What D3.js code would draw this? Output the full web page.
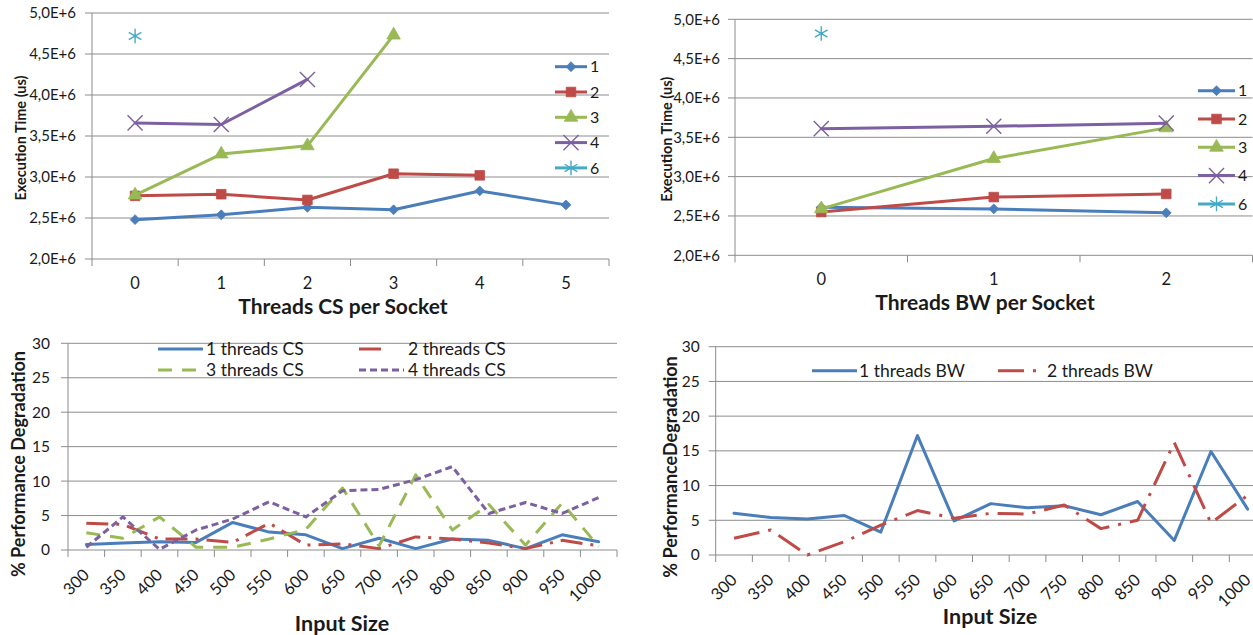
<!DOCTYPE html>
<html>
<head>
<meta charset="utf-8">
<script src="https://cdn.jsdelivr.net/npm/d3@7"></script>
<style>
  html, body { margin: 0; padding: 0; background: #fff; }
  svg { display: block; font-family: Lato, "Open Sans", sans-serif; }
</style>
</head>
<body>
<svg id="chart" width="1253" height="635"></svg>
<script>
// ---- Execution time vs. co-running threads (per socket) ----
const csThreads = ["0", "1", "2", "3", "4", "5"];
const bwThreads = ["0", "1", "2"];
const threadSeries = ["1", "2", "3", "4", "6"];

const csTime1 = [2.48e6, 2.54e6, 2.63e6, 2.60e6, 2.83e6, 2.66e6];
const csTime2 = [2.77e6, 2.79e6, 2.72e6, 3.04e6, 3.02e6, null];
const csTime3 = [2.78e6, 3.28e6, 3.38e6, 4.73e6, null, null];
const csTime4 = [3.66e6, 3.64e6, 4.19e6, null, null, null];
const csTime6 = [4.72e6, null, null, null, null, null];

const bwTime1 = [2.61e6, 2.59e6, 2.54e6];
const bwTime2 = [2.55e6, 2.74e6, 2.78e6];
const bwTime3 = [2.59e6, 3.23e6, 3.62e6];
const bwTime4 = [3.61e6, 3.64e6, 3.68e6];
const bwTime6 = [4.82e6, null, null];

const timeTicks = [2.0e6, 2.5e6, 3.0e6, 3.5e6, 4.0e6, 4.5e6, 5.0e6];

// ---- Performance degradation vs. input size ----
const inputSizes = ["300", "350", "400", "450", "500", "550", "600", "650",
                    "700", "750", "800", "850", "900", "950", "1000"];
const degradationTicks = [0, 5, 10, 15, 20, 25, 30];

const csDeg1 = [0.8, 1.0, 1.2, 1.1, 4.0, 2.6, 2.2, 0.2, 1.7, 0.2, 1.6, 1.4, 0.2, 2.2, 1.2];
const csDeg2 = [3.9, 3.7, 1.6, 1.6, 1.1, 3.9, 0.7, 0.9, 0.2, 1.9, 1.6, 1.0, 0.2, 1.4, 0.6];
const csDeg3 = [2.5, 1.7, 4.8, 0.4, 0.4, 1.6, 3.0, 9.0, 0.6, 10.9, 2.9, 6.6, 0.7, 6.8, 0.5];
const csDeg4 = [0.4, 4.8, 0.1, 2.9, 4.5, 7.0, 4.8, 8.6, 8.8, 10.2, 12.1, 5.3, 6.9, 5.3, 7.6];

const bwDeg1 = [6.0, 5.4, 5.2, 5.7, 3.3, 17.2, 4.9, 7.4, 6.8, 7.1, 5.8, 7.7, 2.1, 14.9, 6.6];
const bwDeg2 = [2.4, 3.6, 0.0, 1.9, 4.3, 6.4, 5.3, 6.0, 5.9, 7.2, 3.8, 5.0, 16.2, 4.6, 8.6];

// ---- styling ----
const COLORS = { blue: "#4a7ebb", red: "#be4b48", green: "#98b954", purple: "#7d60a0", cyan: "#46aac5" };
const GRID = "#8c8c8c";
const TEXT = "#1a1a1a";

const svg = d3.select("#chart");

function fmtExp(v) {
  return (v / 1e6).toFixed(1).replace(".", ",") + "E+6";
}

// Marker shapes in the style of a spreadsheet chart
function markerPath(kind) {
  switch (kind) {
    case "diamond": return d3.symbol(d3.symbolDiamond2, 62)();
    case "square": return d3.symbol(d3.symbolSquare, 92)();
    case "triangle": return d3.symbol(d3.symbolTriangle, 80)();
    case "times": return d3.symbol(d3.symbolTimes, 150)();
    case "asterisk": return d3.symbol(d3.symbolAsterisk, 150)();
  }
}

function drawMarker(g, kind, color, x, y) {
  const stroke = (kind === "times" || kind === "asterisk");
  g.append("path")
    .attr("d", markerPath(kind))
    .attr("transform", `translate(${x},${y})`)
    .attr("fill", stroke ? "none" : color)
    .attr("stroke", color)
    .attr("stroke-width", stroke ? 1.4 : 0.8);
}

// Frame: horizontal gridlines, left axis with outward ticks, bottom ticks between categories
function drawFrame(g, x, y, ticks, tickFmt, opts) {
  const [x0, x1] = x.range();
  ticks.forEach(t => {
    g.append("line")
      .attr("x1", x0 - 7).attr("x2", x1)
      .attr("y1", y(t)).attr("y2", y(t))
      .attr("stroke", GRID).attr("stroke-width", 1);
    g.append("text")
      .attr("x", x0 - opts.labelGap).attr("y", y(t))
      .attr("dy", "0.35em")
      .attr("text-anchor", "end")
      .attr("font-size", opts.yFont)
      .attr("fill", TEXT)
      .text(tickFmt(t));
  });
  const [yb, yt] = y.range();
  g.append("line")
    .attr("x1", x0).attr("x2", x0).attr("y1", yt).attr("y2", yb + 7)
    .attr("stroke", GRID).attr("stroke-width", 1);
  const bw = x.step();
  x.domain().forEach((d, i) => {
    const tx = x0 + (i + 1) * bw;
    g.append("line")
      .attr("x1", tx).attr("x2", tx).attr("y1", yb).attr("y2", yb + 7)
      .attr("stroke", GRID).attr("stroke-width", 1);
  });
}

function drawSeries(g, x, y, values, style) {
  const cats = x.domain();
  const pts = values.map((v, i) => ({ c: cats[i], v }));
  const line = d3.line()
    .defined(d => d.v !== null)
    .x(d => x(d.c) + x.bandwidth() / 2)
    .y(d => y(d.v));
  g.append("path")
    .datum(pts)
    .attr("d", line)
    .attr("fill", "none")
    .attr("stroke", style.color)
    .attr("stroke-width", style.width || 3)
    .attr("stroke-linejoin", "round")
    .attr("stroke-linecap", style.dash ? "butt" : "round")
    .attr("stroke-dasharray", style.dash || null);
  if (style.marker) {
    pts.filter(d => d.v !== null).forEach(d => {
      drawMarker(g, style.marker, style.color, x(d.c) + x.bandwidth() / 2, y(d.v));
    });
  }
}

// ---------- Top panels: execution time ----------
const timeStyles = [
  { color: COLORS.blue, marker: "diamond" },
  { color: COLORS.red, marker: "square" },
  { color: COLORS.green, marker: "triangle" },
  { color: COLORS.purple, marker: "times" },
  { color: COLORS.cyan, marker: "asterisk" }
];

function timePanel(cfg) {
  const g = svg.append("g");
  const x = d3.scaleBand().domain(cfg.cats).range([cfg.left, cfg.right]).paddingInner(0).paddingOuter(0);
  const y = d3.scaleLinear().domain([2.0e6, 5.0e6]).range([cfg.bottom, cfg.top]);
  drawFrame(g, x, y, timeTicks, fmtExp, { labelGap: cfg.labelGap, yFont: 15 });

  cfg.cats.forEach(c => {
    g.append("text")
      .attr("x", x(c) + x.bandwidth() / 2)
      .attr("y", cfg.bottom + 29.5)
      .attr("text-anchor", "middle")
      .attr("font-size", 16.5).attr("fill", TEXT)
      .text(c);
  });

  cfg.series.forEach((vals, i) => drawSeries(g, x, y, vals, timeStyles[i]));

  // legend
  threadSeries.forEach((name, i) => {
    const ly = cfg.legendY + i * cfg.legendStep;
    const st = timeStyles[i];
    g.append("line")
      .attr("x1", cfg.legendX).attr("x2", cfg.legendX + cfg.legendLen)
      .attr("y1", ly).attr("y2", ly)
      .attr("stroke", st.color).attr("stroke-width", 3);
    drawMarker(g, st.marker, st.color, cfg.legendX + cfg.legendLen / 2, ly);
    g.append("text")
      .attr("x", cfg.legendX + cfg.legendLen + 3).attr("y", ly)
      .attr("dy", "0.35em")
      .attr("font-size", 16).attr("fill", TEXT)
      .text(name);
  });

  g.append("text")
    .attr("x", cfg.titleX).attr("y", cfg.titleY)
    .attr("text-anchor", "middle")
    .attr("font-size", 21).attr("font-weight", "bold").attr("fill", TEXT)
    .text(cfg.title);

  g.append("text")
    .attr("transform", `translate(${cfg.yTitleX},${(cfg.top + cfg.bottom) / 2 + 2}) rotate(-90)`)
    .attr("text-anchor", "middle")
    .attr("dy", "0.35em")
    .attr("font-size", 14.5).attr("font-weight", "bold").attr("fill", TEXT)
    .text("Execution Time (us)");
}

timePanel({
  cats: csThreads, left: 92, right: 609, top: 13, bottom: 259, labelGap: 16,
  series: [csTime1, csTime2, csTime3, csTime4, csTime6],
  legendX: 555, legendLen: 32, legendY: 66.7, legendStep: 25.3,
  title: "Threads CS per Socket", titleX: 343, titleY: 314, yTitleX: 21
});

timePanel({
  cats: bwThreads, left: 735, right: 1252.5, top: 19.3, bottom: 255.3, labelGap: 15,
  series: [bwTime1, bwTime2, bwTime3, bwTime4, bwTime6],
  legendX: 1198, legendLen: 37, legendY: 90.7, legendStep: 28.3,
  title: "Threads BW per Socket", titleX: 985, titleY: 309.5, yTitleX: 667
});

// ---------- Bottom panels: performance degradation ----------
function degradationPanel(cfg) {
  const g = svg.append("g");
  const x = d3.scaleBand().domain(inputSizes).range([cfg.left, cfg.right]).paddingInner(0).paddingOuter(0);
  const y = d3.scaleLinear().domain([0, 30]).range([cfg.bottom, cfg.top]);
  drawFrame(g, x, y, degradationTicks, d => String(d), { labelGap: cfg.labelGap, yFont: 15.5 });

  inputSizes.forEach(c => {
    const cx = x(c) + x.bandwidth() / 2 + 4;
    const cy = cfg.bottom + 26;
    g.append("text")
      .attr("transform", `translate(${cx},${cy}) rotate(-45)`)
      .attr("text-anchor", "end")
      .attr("font-size", 16.5).attr("fill", TEXT)
      .text(c);
  });

  cfg.series.forEach(s => drawSeries(g, x, y, s.values, s));

  cfg.series.forEach(s => {
    const lg = s.legend;
    g.append("line")
      .attr("x1", lg.x).attr("x2", lg.x + lg.len)
      .attr("y1", lg.y).attr("y2", lg.y)
      .attr("stroke", s.color).attr("stroke-width", 3)
      .attr("stroke-dasharray", s.dash || null);
    g.append("text")
      .attr("x", lg.tx).attr("y", lg.y)
      .attr("dy", "0.35em")
      .attr("font-size", 17.5).attr("fill", TEXT)
      .text(s.name);
  });

  g.append("text")
    .attr("x", cfg.titleX).attr("y", cfg.titleY)
    .attr("text-anchor", "middle")
    .attr("font-size", 21.5).attr("font-weight", "bold").attr("fill", TEXT)
    .text("Input Size");

  g.append("text")
    .attr("transform", `translate(${cfg.yTitleX},${cfg.yTitleY}) rotate(-90)`)
    .attr("text-anchor", "middle")
    .attr("dy", "0.35em")
    .attr("font-size", 18).attr("font-weight", "bold").attr("fill", TEXT)
    .text(cfg.yTitle);
}

degradationPanel({
  left: 68, right: 617, top: 343.3, bottom: 550, labelGap: 18,
  titleX: 342, titleY: 631, yTitleX: 19, yTitleY: 464,
  yTitle: "% Performance Degradation",
  series: [
    { name: "1 threads CS", values: csDeg1, color: COLORS.blue,
      legend: { x: 158, len: 45, tx: 206, y: 349 } },
    { name: "2 threads CS", values: csDeg2, color: COLORS.red, dash: "22,8,3,8",
      legend: { x: 359, len: 29, tx: 408, y: 349 } },
    { name: "3 threads CS", values: csDeg3, color: COLORS.green, dash: "14,10",
      legend: { x: 158, len: 45, tx: 206, y: 370 } },
    { name: "4 threads CS", values: csDeg4, color: COLORS.purple, dash: "7,4",
      legend: { x: 359, len: 45, tx: 408, y: 370 } }
  ]
});

degradationPanel({
  left: 715.7, right: 1266, top: 346.7, bottom: 555, labelGap: 16,
  titleX: 990, titleY: 624, yTitleX: 671, yTitleY: 467,
  yTitle: "% PerformanceDegradation",
  series: [
    { name: "1 threads BW", values: bwDeg1, color: COLORS.blue,
      legend: { x: 812, len: 45, tx: 859, y: 370.7 } },
    { name: "2 threads BW", values: bwDeg2, color: COLORS.red, dash: "26,9,3,9",
      legend: { x: 998, len: 45, tx: 1047, y: 370.7 } }
  ]
});
</script>
</body>
</html>
